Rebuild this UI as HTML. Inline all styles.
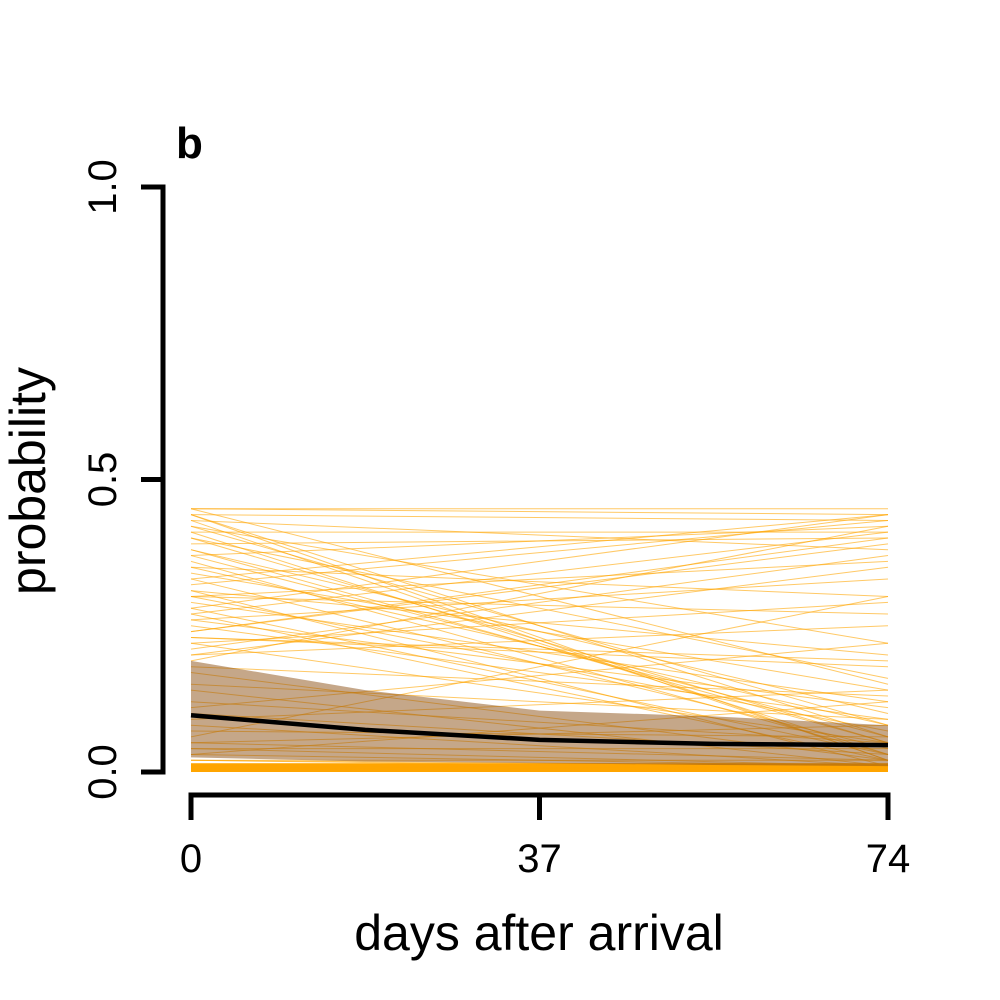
<!DOCTYPE html>
<html><head><meta charset="utf-8"><style>
html,body{margin:0;padding:0;background:#fff;}
svg{display:block;font-family:"Liberation Sans",Arial,sans-serif;}
</style></head><body>
<svg id="chart" width="1000" height="1000" viewBox="0 0 1000 1000">
<text x="176" y="158" font-size="44" font-weight="bold">b</text>
<g id="plot"></g>
<g id="axes"></g>
<text transform="translate(45,481) rotate(-90)" text-anchor="middle" font-size="50">probability</text>
<text x="539" y="950" text-anchor="middle" font-size="50">days after arrival</text>
</svg>
<script>
const xTicks=[0,37,74];
const yTicks=[0,0.5,1];
const yTickLabels=["0.0","0.5","1.0"];
const startsHigh=[0.45,0.45,0.44,0.44,0.43,0.43,0.42,0.41,0.40,0.39,0.38,0.37,0.36,0.35,0.34,0.33,0.32,0.31,0.30,0.30,0.29,0.28,0.27,0.26,0.25,0.24,0.23,0.22,0.21,0.20,0.19,0.18,0.44,0.42,0.40,0.38,0.35,0.33,0.30,0.28,0.26,0.24,0.22,0.20,0.45,0.41,0.37,0.31,0.27,0.23];
const endsHigh=[0.45,0.44,0.06,0.43,0.02,0.38,0.08,0.41,0.05,0.40,0.10,0.42,0.03,0.30,0.14,0.04,0.43,0.20,0.07,0.36,0.12,0.44,0.02,0.33,0.09,0.40,0.18,0.05,0.37,0.25,0.42,0.13,0.02,0.22,0.16,0.05,0.08,0.44,0.27,0.03,0.11,0.39,0.29,0.35,0.15,0.03,0.06,0.01,0.41,0.19];
const startsLow=[0.17,0.15,0.14,0.12,0.11,0.10,0.09,0.08,0.07,0.06,0.05,0.05,0.04,0.04,0.03,0.03,0.02,0.02,0.02,0.01,0.01,0.01,0.01,0.005,0.005];
const endsLow=[0.02,0.09,0.01,0.05,0.22,0.03,0.14,0.01,0.06,0.30,0.02,0.08,0.01,0.04,0.12,0.01,0.02,0.01,0.005,0.01,0.005,0.01,0.005,0.005,0.002];
const bandX=[0,18.5,37,55.5,74];
const bandUpper=[0.19,0.14,0.105,0.095,0.08];
const bandLower=[0.025,0.018,0.015,0.012,0.01];
const meanVals=[0.097,0.072,0.055,0.048,0.046];

const NS="http://www.w3.org/2000/svg";
const xs=v=>191+(v/74)*(888-191);
const ys=v=>772-v*(772-187);
const plot=document.getElementById('plot');
const axes=document.getElementById('axes');
function mk(tag,attrs,parent){const e=document.createElementNS(NS,tag);for(const k in attrs)e.setAttribute(k,attrs[k]);parent.appendChild(e);return e;}

const base=mk('rect',{x:xs(0),y:ys(0.015),width:xs(74)-xs(0),height:ys(0)-ys(0.015),fill:'#ffa500'},plot);



function drawLines(s,e,nm){
  for(let i=0;i<s.length;i++){
    const l=mk('line',{x1:xs(0),y1:ys(s[i]),x2:xs(74),y2:ys(e[i]),stroke:'#ffa500','stroke-opacity':0.6,'stroke-width':1},plot);
    
    
  }
}
drawLines(startsHigh,endsHigh,'sample-line');
drawLines(startsLow,endsLow,'sample-line-low');

let d='';
bandX.forEach((x,i)=>{d+=(i?'L':'M')+xs(x)+','+ys(bandUpper[i]);});
for(let i=bandX.length-1;i>=0;i--)d+='L'+xs(bandX[i])+','+ys(bandLower[i]);
const band=mk('path',{d:d+'Z',fill:'rgb(140,80,20)','fill-opacity':0.5},plot);



let md='';
bandX.forEach((x,i)=>{md+=(i?'L':'M')+xs(x)+','+ys(meanVals[i]);});
const mean=mk('path',{d:md,fill:'none',stroke:'#000','stroke-width':4.5},plot);



const ya=mk('line',{x1:163,y1:ys(1),x2:163,y2:ys(0),stroke:'#000','stroke-width':5},axes);


yTicks.forEach((v,i)=>{
  const t=mk('line',{x1:141,y1:ys(v),x2:165.5,y2:ys(v),stroke:'#000','stroke-width':5},axes);
  
  
  const tx=mk('text',{transform:'translate(116,'+ys(v)+') rotate(-90)','text-anchor':'middle','font-size':40},axes);
  tx.textContent=yTickLabels[i];
  
  
});
const xa=mk('line',{x1:xs(0),y1:795,x2:xs(74),y2:795,stroke:'#000','stroke-width':5},axes);


xTicks.forEach(v=>{
  const t=mk('line',{x1:xs(v),y1:792.5,x2:xs(v),y2:820,stroke:'#000','stroke-width':5},axes);
  
  
  const tx=mk('text',{x:xs(v),y:872,'text-anchor':'middle','font-size':40},axes);
  tx.textContent=String(v);
  
  
});
</script>
</body></html>
